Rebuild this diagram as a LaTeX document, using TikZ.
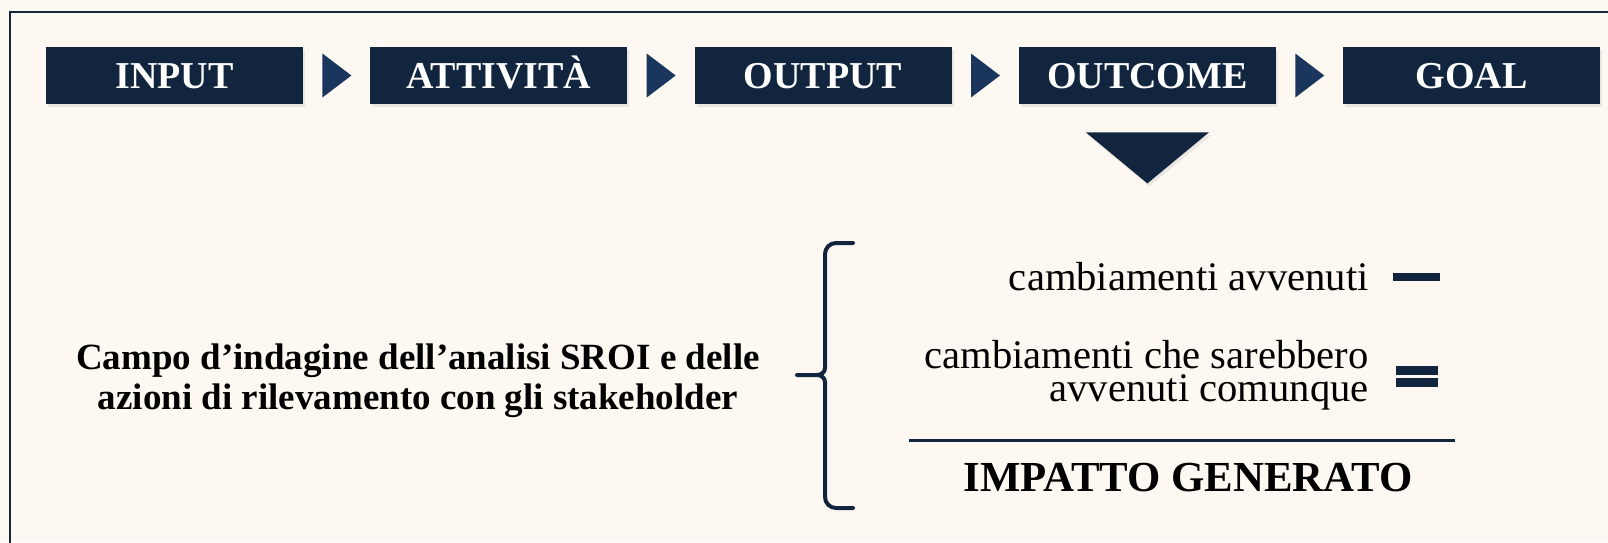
\documentclass[tikz,border=0pt]{standalone}
\usepackage{fontspec}
\setmainfont{Liberation Serif}
\usetikzlibrary{positioning,shadows}
\definecolor{navy}{HTML}{12253F}
\definecolor{arrowblue}{HTML}{1B365D}
\definecolor{paper}{HTML}{FDF8F2}

\begin{document}
\begin{tikzpicture}[x=0.5pt,y=0.5pt,
        stage/.style={fill=navy,text=white,minimum width=128.5pt,minimum height=28.5pt,
            inner sep=0pt,text height=12.6pt,text depth=0pt,
            font=\fontsize{19pt}{22pt}\selectfont\bfseries,
            drop shadow={opacity=0.15,shadow xshift=1pt,shadow yshift=-1.5pt}},
        tri/.style={fill=arrowblue},
        plain/.style={inner sep=0pt,font=\fontsize{20.3pt}{16.5pt}\selectfont},
        heavy/.style={inner sep=0pt,font=\fontsize{18.5pt}{20pt}\selectfont\bfseries}
    ]
    \useasboundingbox (0,0) rectangle (1608,-542);
    \fill[paper] (0,0) rectangle (1608,-542);
    \draw[navy,line width=1pt] (10,-560) |- (1620,-12);

    % chain of stages
    \node[stage] (input) at (174.5,-75.5) {INPUT};
    \node[stage,right=33.25pt of input] (attivita) {ATTIVITÀ};
    \node[stage,right=33.25pt of attivita] (output) {OUTPUT};
    \node[stage,right=33.25pt of output] (outcome) {OUTCOME};
    \node[stage,right=33.25pt of outcome] (goal) {GOAL};

    \fill[tri] ([xshift=9.5pt,yshift=11pt]input.east) -- ++(14.5pt,-11pt) -- ++(-14.5pt,-11pt) -- cycle;
    \fill[tri] ([xshift=9.5pt,yshift=11pt]attivita.east) -- ++(14.5pt,-11pt) -- ++(-14.5pt,-11pt) -- cycle;
    \fill[tri] ([xshift=9.5pt,yshift=11pt]output.east) -- ++(14.5pt,-11pt) -- ++(-14.5pt,-11pt) -- cycle;
    \fill[tri] ([xshift=9.5pt,yshift=11pt]outcome.east) -- ++(14.5pt,-11pt) -- ++(-14.5pt,-11pt) -- cycle;

    \fill[navy,drop shadow={opacity=0.15,shadow xshift=1pt,shadow yshift=-1.5pt}]
        ([shift={(-61.5,-28)}]outcome.south) -- ++(123,0) -- ++(-61.5,-51) -- cycle;

    % scope of the analysis
    \node[heavy,align=center] (campo) at (418,-381)
        {Campo d’indagine dell’analisi SROI e delle\\azioni di rilevamento con gli stakeholder};

    \draw[navy,line width=2pt,line join=round,line cap=round]
        (853,-243) -- (836,-243)
        to [out=180,in=90] (825,-254)
        -- (825,-368)
        to [out=-90,in=0] (817,-375)
        -- (797,-375)
        -- (817,-375)
        to [out=0,in=90] (825,-382)
        -- (825,-497)
        to [out=-90,in=180] (836,-508)
        -- (853,-508);

    % impact formula
    \node[plain,anchor=base east] (avvenuti) at (1369,-290) {cambiamenti avvenuti};
    \node[plain,anchor=east,align=right] (sarebbero) at (1369,-375)
        {cambiamenti che sarebbero\\avvenuti comunque};
    \fill[navy] (1393,-273) rectangle (1440,-281);
    \fill[navy] (1396,-366) rectangle (1438,-375);
    \fill[navy] (1396,-378) rectangle (1438,-387);
    \draw[navy,line width=1.5pt] (909,-440) -- (1455,-440);
    \node[anchor=base,inner sep=0pt,font=\fontsize{21.4pt}{24pt}\selectfont\bfseries] (impatto)
        at (1188,-491) {IMPATTO GENERATO};
\end{tikzpicture}
\end{document}
